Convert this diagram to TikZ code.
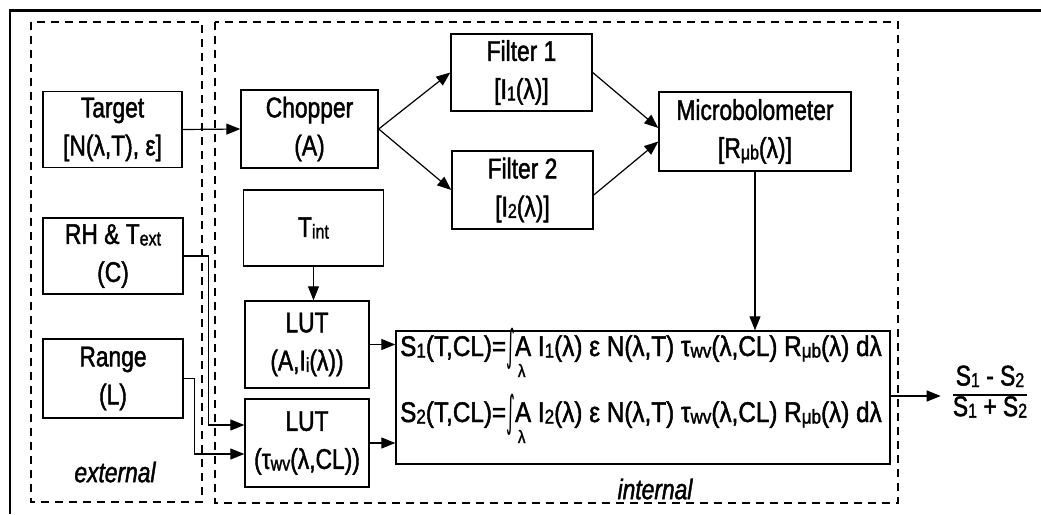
\documentclass[tikz,border=0pt]{standalone}
\usepackage{fontspec}
\usepackage{graphicx}
\setmainfont{Liberation Sans}[FakeStretch=0.8,FakeBold=1.5]
\newfontfamily\symfnt{DejaVu Sans}[FakeStretch=0.7]
\usetikzlibrary{arrows.meta,calc}
\newcommand\mainsz{\fontsize{28.5}{38}\selectfont}
\newcommand\sbs[1]{{\fontsize{20}{20}\selectfont\raisebox{-1.5pt}{#1}}}
\newcommand\Alam{\setbox0\hbox{A}\rlap{\hbox to\wd0{\hss\raisebox{-21pt}[0pt][0pt]{\fontsize{18}{18}\selectfont λ}\hss\hss}}A}
\newcommand\intg{{\symfnt\raisebox{-4pt}{\scalebox{0.8}[1.5]{∫}}}}
\tikzset{
  box/.style={draw, line width=1.4pt, inner sep=0pt, align=center, font=\mainsz},
  arr/.style={line width=1.2pt, -{Triangle[length=14pt,width=11pt]}},
  dbox/.style={dash pattern=on 8pt off 6pt, line width=1.1pt},
  lbl/.style={font=\mainsz\itshape, inner sep=0pt},
  eq/.style={font=\mainsz, inner sep=0pt, anchor=base west}
}
\begin{document}
\begin{tikzpicture}[x=1pt,y=-1pt]
\useasboundingbox (0,0) rectangle (1041,514);
% frame
\draw[line width=2.5pt] (10,514) -- (10,10.5) -- (1041,10.5);
% dashed regions
\draw[dbox] (31,22) rectangle (202,502);
\draw[dbox] (215,22) rectangle (898,503);
\node[lbl] (ext) at (115,472) {external};
\node[lbl] (int) at (655,489) {internal};
% nodes
\node[box, minimum width=139pt, minimum height=76pt] (target) at (112.5,129.5) {Target\\{}[N(λ,T), ε]};
\node[box, minimum width=137pt, minimum height=78pt] (chopper) at (309.5,129) {Chopper\\(A)};
\node[box, minimum width=141pt, minimum height=77pt] (filt1) at (521.5,72.5) {Filter 1\\{}[I\sbs1(λ)]};
\node[box, minimum width=141pt, minimum height=78pt] (filt2) at (522.5,190) {Filter 2\\{}[I\sbs2(λ)]};
\node[box, minimum width=192pt, minimum height=79pt] (micro) at (755,131.5) {Microbolometer\\{}[R\sbs{μb}(λ)]};
\node[box, minimum width=140pt, minimum height=76pt] (tint) at (313.5,228) {T\sbs{int}};
\node[box, minimum width=124pt, minimum height=87pt] (lut1) at (307,344.5) {LUT\\(A,I\sbs{i}(λ))};
\node[box, minimum width=124pt, minimum height=88pt] (lut2) at (307,443) {LUT\\(τ\sbs{wv}(λ,CL))};
\node[box, minimum width=140pt, minimum height=76pt] (rh) at (113,256) {RH \& T\sbs{ext}\\(C)};
\node[box, minimum width=140pt, minimum height=79pt] (range) at (113,378.5) {Range\\(L)};
\node[box, minimum width=494pt, minimum height=133pt] (sbox) at (643,397.5) {};
\node[eq] (s1) at (400,356) {\scalebox{1.065}[1]{S\sbs1(T,CL)=\intg\Alam{} I\sbs1(λ) ε N(λ,T) τ\sbs{wv}(λ,CL) R\sbs{μb}(λ) dλ}};
\node[eq] (s2) at (400,422) {\scalebox{1.065}[1]{S\sbs2(T,CL)=\intg\Alam{} I\sbs2(λ) ε N(λ,T) τ\sbs{wv}(λ,CL) R\sbs{μb}(λ) dλ}};
\node[inner sep=0pt, font=\fontsize{28.5}{29}\selectfont] (frac) at (990,395)
  {\setlength\arrayrulewidth{1.6pt}\begin{tabular}{@{}c@{}}S\sbs1 - S\sbs2\\\hline S\sbs1 + S\sbs2\end{tabular}};
% connectors
\draw[arr] (target.east) -- (chopper.west);
\draw[arr] (chopper.east) -- (filt1.west);
\draw[arr] (chopper.east) -- (filt2.west);
\draw[arr] (filt1.east) -- ($(micro.west)+(0,-3.5)$);
\draw[arr] ($(filt2.east)+(0,5)$) -- ($(micro.west)+(0,10)$);
\draw[arr] (micro.south) -- (micro.south |- sbox.north);
\draw[arr, line width=0.9pt] (tint.south) -- (tint.south |- lut1.north);
\draw[arr] (lut1.east) -- (lut1.east -| sbox.west);
\draw[arr] (lut2.east) -- (lut2.east -| sbox.west);
\draw[arr] (rh.east) -- ++(25,0) |- ($(lut2.west)+(0,-18)$);
\draw[arr] (range.east) -- ++(11,0) |- ($(lut2.west)+(0,11)$);
\draw[arr] ($(sbox.east)+(0,-1.5)$) -- ($(sbox.east -| frac.west)+(-12,-1.5)$);
\end{tikzpicture}
\end{document}
